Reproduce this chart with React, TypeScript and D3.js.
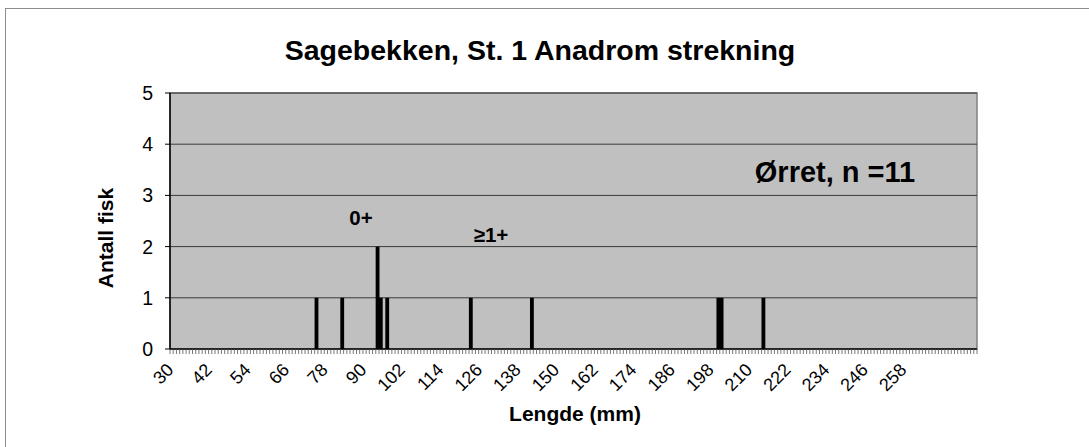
import React from "react";
import * as d3 from "d3";

const lengths = [75, 83, 94, 95, 97, 123, 142, 200, 201, 214];
const counts = [1, 1, 2, 1, 1, 1, 1, 1, 1, 1];
const categories = d3.range(30, 281);
const tickLabels = d3.range(30, 259, 12);
const yTicks = [0, 1, 2, 3, 4, 5];

const W = 1089;
const H = 447;
const M = { left: 170, right: 977, top: 93, bottom: 349 };

export default function App() {
  const x = d3
    .scaleBand<number>()
    .domain(categories)
    .range([M.left, M.right])
    .paddingInner(0.12)
    .paddingOuter(0.06);
  const step = x.step();
  const y = d3.scaleLinear().domain([0, 5]).range([M.bottom, M.top]);
  const font = "Arial, 'Liberation Sans', sans-serif";

  return (
    <svg
      width={W}
      height={H}
      style={{ position: "absolute", left: 0, top: 0, background: "#fff" }}
      fontFamily={font}
    >
      <rect x={5.5} y={8.5} width={1200} height={600} fill="#fff" stroke="#8c8c8c" strokeWidth={1} />
      <text x={540} y={60} textAnchor="middle" fontSize={28.5} fontWeight="bold">
        Sagebekken, St. 1 Anadrom strekning
      </text>
      <rect x={M.left} y={M.top} width={M.right - M.left} height={M.bottom - M.top} fill="#c0c0c0" stroke="#808080" strokeWidth={1.5} />
      {yTicks.slice(1).map((t) => (
        <line key={"g" + t} x1={M.left} x2={M.right} y1={y(t)} y2={y(t)} stroke="#3a3a3a" strokeWidth={1} />
      ))}
      {lengths.map((l, i) => (
        <rect
          key={"b" + l}
          x={x(l)! - 0.3}
          y={y(counts[i])}
          width={x.bandwidth() + 1}
          height={M.bottom - y(counts[i])}
          fill="#000"
        />
      ))}
      <line x1={M.left} x2={M.left} y1={M.top} y2={M.bottom} stroke="#000" strokeWidth={1.5} />
      <line x1={M.left} x2={M.right} y1={M.bottom} y2={M.bottom} stroke="#000" strokeWidth={1.5} />
      {yTicks.map((t) => (
        <g key={"y" + t}>
          <line x1={M.left - 5} x2={M.left} y1={y(t)} y2={y(t)} stroke="#000" strokeWidth={1} />
          <text x={M.left - 17} y={y(t) + 7} textAnchor="end" fontSize={19.5}>
            {t}
          </text>
        </g>
      ))}
      {categories.map((c) => (
        <line
          key={"t" + c}
          x1={(x(c)! - (step - x.bandwidth()) / 2)}
          x2={(x(c)! - (step - x.bandwidth()) / 2)}
          y1={M.bottom}
          y2={M.bottom + 5}
          stroke="#555"
          strokeWidth={0.8}
        />
      ))}
      <line x1={M.right} x2={M.right} y1={M.bottom} y2={M.bottom + 5} stroke="#555" strokeWidth={0.8} />
      {tickLabels.map((t) => {
        const cx = x(t)! + x.bandwidth() / 2 + 3;
        const cy = M.bottom + 22;
        return (
          <text
            key={"l" + t}
            x={cx}
            y={cy}
            textAnchor="end"
            fontSize={18}
            transform={`rotate(-45 ${cx} ${cy})`}
          >
            {t}
          </text>
        );
      })}
      <text x={575} y={421} textAnchor="middle" fontSize={21} fontWeight="bold">
        Lengde (mm)
      </text>
      <text
        x={0}
        y={0}
        textAnchor="middle"
        fontSize={21}
        fontWeight="bold"
        transform={`translate(113 ${238}) rotate(-90)`}
      >
        Antall fisk
      </text>
      <text x={835} y={182} textAnchor="middle" fontSize={29} fontWeight="bold">
        Ørret, n =11
      </text>
      <text x={361} y={225} textAnchor="middle" fontSize={20.5} fontWeight="bold">
        0+
      </text>
      <text x={491} y={242} textAnchor="middle" fontSize={20.5} fontWeight="bold">
        ≥1+
      </text>
    </svg>
  );
}
